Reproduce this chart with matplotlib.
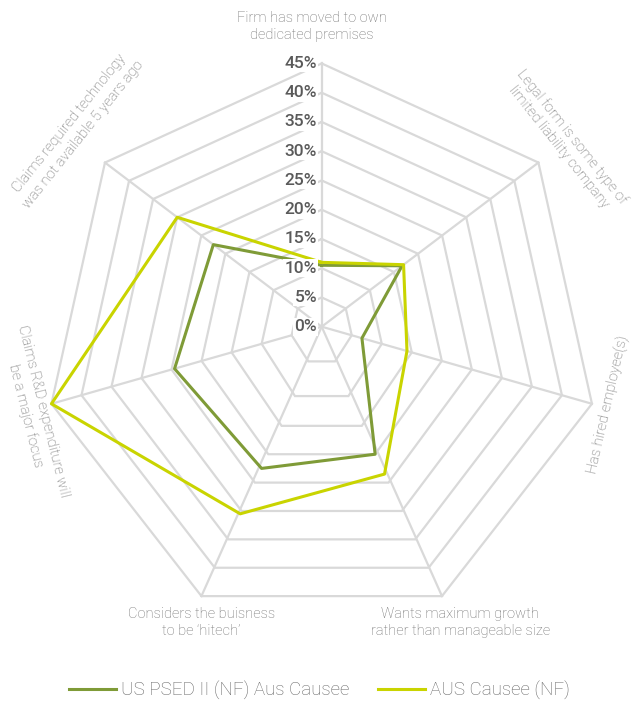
import numpy as np
import matplotlib.pyplot as plt

# spokes, clockwise from the top
categories = [
    "Firm has moved to own\ndedicated premises",
    "Legal form is some type of\nlimited liability company",
    "Has hired employee(s)",
    "Wants maximum growth\nrather than manageable size",
    "Considers the buisness\nto be \u2018hitech\u2019",
    "Claims R&D expenditure will\nbe a major focus",
    "Claims required technology\nwas not available 5 years ago",
]
us_psed = [10.5, 16.7, 6.7, 20.0, 22.5, 24.5, 22.5]
aus_causee = [11.0, 17.0, 14.2, 23.5, 30.5, 45.0, 30.0]
series_names = ["US PSED II (NF) Aus Causee", "AUS Causee (NF)"]
ticks = [0, 5, 10, 15, 20, 25, 30, 35, 40, 45]
tick_labels = [f"{t}%" for t in ticks]

GREEN = "#7f9b37"
YELLOW = "#c9d400"
GRID = "#d9d9d9"

n = len(categories)
theta = np.arange(n) * 2 * np.pi / n
sx, cy = np.sin(theta), np.cos(theta)

# the lower half of the web is drawn a bit taller than the upper half
node_y = np.array([-100.0, -10.0, 0.0, 100.0])
node_p = np.array([-77.0 - 90 * 6.3, -77.0, 0.0, 585.0])
fwd = lambda y: np.interp(y, node_y, node_p)
inv = lambda p: np.interp(p, node_p, node_y)

fig = plt.figure(figsize=(6.33, 7.06), dpi=100)
ax = fig.add_axes([0, 0, 1, 1])
ax.set_yscale("function", functions=(fwd, inv))
px = 6.16  # pixels per percent across
ax.set_xlim(-321.7 / px, (633 - 321.7) / px)
ax.set_ylim(inv(-379.3), inv(326.7))
ax.axis("off")

# web
for t in ticks[1:]:
    ax.plot(np.append(t * sx, t * sx[0]), np.append(t * cy, t * cy[0]),
            color=GRID, lw=1.6, zorder=1, solid_joinstyle="miter")
for i in range(n):
    ax.plot([0, ticks[-1] * sx[i]], [0, ticks[-1] * cy[i]], color=GRID, lw=1.6, zorder=1)

# series
def closed(vals):
    v = np.array(vals + vals[:1])
    return v * np.append(sx, sx[0]), v * np.append(cy, cy[0])

gx, gy = closed(us_psed)
yx, yy = closed(aus_causee)
l1, = ax.plot(gx, gy, color=GREEN, lw=2.2, zorder=3, label=series_names[0])
l2, = ax.plot(yx, yy, color=YELLOW, lw=2.2, zorder=4, label=series_names[1])

# radial tick labels on the top spoke
for t, lab in zip(ticks, tick_labels):
    ax.text(-0.75, t, lab, ha="right", va="center", fontsize=12.5, color="#5a5a5a",
            family="Roboto", weight="medium", zorder=6,
            bbox=dict(boxstyle="square,pad=0.08", fc="white", ec="none"))

# category labels, one text per line so rotated blocks stay compact
label_xy = [(-1.6, 51.3), (39.6, 31.6), (46.6, -10.2), (22.5, -44.7),
            (-19.5, -44.7), (-46.6, -11.5), (-39.8, 33.8)]
label_rot = [0, -51.4, 77.1, 0, 0, -76.0, 51.4]
FS = 10.5
step = FS * 1.2  # baseline gap in points
for lab, (x, y), rot in zip(categories, label_xy, label_rot):
    lines = lab.split("\n")
    up = np.array([-np.sin(np.radians(rot)), np.cos(np.radians(rot))])
    for k, line in enumerate(lines):
        shift = ((len(lines) - 1) / 2 - k) * step
        ax.annotate(line, (x, y), xytext=tuple(up * shift), textcoords="offset points",
                    ha="center", va="center", rotation=rot, rotation_mode="anchor",
                    fontsize=FS, color="#6e6e6e", family="Roboto", weight="light")

fig.legend(handles=[l1, l2], loc="center", bbox_to_anchor=(319.5 / 633, 16 / 706),
           ncol=2, frameon=False, handlelength=2.5, handletextpad=0.3,
           columnspacing=1.5, labelcolor="#666666",
           prop={"family": "Roboto", "weight": "light", "size": 13.5})

fig.savefig("out.png", dpi=100)
